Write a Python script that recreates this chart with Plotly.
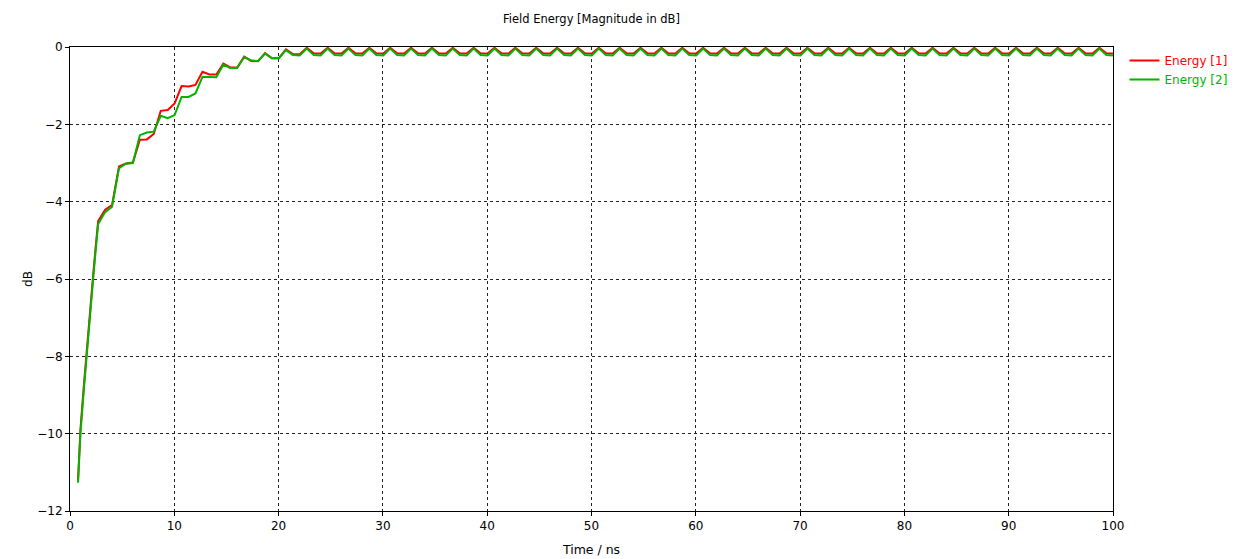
import plotly.graph_objects as go

# ---- data ----
time_ns = [
    0.77, 0.88, 1.00, 1.30, 1.58, 1.90, 2.22, 2.45, 2.70, 3.37, 4.03,
    4.70, 5.37, 6.03, 6.70, 7.37, 8.03, 8.70, 9.37, 10.03,
    10.70, 11.37, 12.03, 12.70, 13.37, 14.03, 14.70, 15.37, 16.03,
    16.70, 17.37, 18.03, 18.70, 19.37, 20.03, 20.70, 21.37, 22.03,
    22.70, 23.37, 24.03, 24.70, 25.37, 26.03, 26.70, 27.37, 28.03,
    28.70, 29.37, 30.03, 30.70, 31.37, 32.03, 32.70, 33.37, 34.03,
    34.70, 35.37, 36.03, 36.70, 37.37, 38.03, 38.70, 39.37, 40.03,
    40.70, 41.37, 42.03, 42.70, 43.37, 44.03, 44.70, 45.37, 46.03,
    46.70, 47.37, 48.03, 48.70, 49.37, 50.03, 50.70, 51.37, 52.03,
    52.70, 53.37, 54.03, 54.70, 55.37, 56.03, 56.70, 57.37, 58.03,
    58.70, 59.37, 60.03, 60.70, 61.37, 62.03, 62.70, 63.37, 64.03,
    64.70, 65.37, 66.03, 66.70, 67.37, 68.03, 68.70, 69.37, 70.03,
    70.70, 71.37, 72.03, 72.70, 73.37, 74.03, 74.70, 75.37, 76.03,
    76.70, 77.37, 78.03, 78.70, 79.37, 80.03, 80.70, 81.37, 82.03,
    82.70, 83.37, 84.03, 84.70, 85.37, 86.03, 86.70, 87.37, 88.03,
    88.70, 89.37, 90.03, 90.70, 91.37, 92.03, 92.70, 93.37, 94.03,
    94.70, 95.37, 96.03, 96.70, 97.37, 98.03, 98.70, 99.37, 100.00,
]

energy_1_db = [
    -11.20, -10.50, -9.90, -8.85, -7.90, -6.90, -5.90, -5.20, -4.50, -4.21, -4.09,
    -3.09, -3.01, -2.99, -2.40, -2.39, -2.25, -1.65, -1.63, -1.46,
    -1.01, -1.02, -0.98, -0.64, -0.71, -0.71, -0.43, -0.53, -0.53,
    -0.25, -0.36, -0.37, -0.16, -0.29, -0.29, -0.06, -0.18, -0.19,
    -0.02, -0.16, -0.17, -0.02, -0.16, -0.17, -0.02, -0.16, -0.17,
    -0.02, -0.16, -0.17, -0.02, -0.16, -0.17, -0.02, -0.16, -0.17,
    -0.02, -0.16, -0.17, -0.02, -0.16, -0.17, -0.02, -0.16, -0.17,
    -0.02, -0.16, -0.17, -0.02, -0.16, -0.17, -0.02, -0.16, -0.17,
    -0.02, -0.16, -0.17, -0.02, -0.16, -0.17, -0.02, -0.16, -0.17,
    -0.02, -0.16, -0.17, -0.02, -0.16, -0.17, -0.02, -0.16, -0.17,
    -0.02, -0.16, -0.17, -0.02, -0.16, -0.17, -0.02, -0.16, -0.17,
    -0.02, -0.16, -0.17, -0.02, -0.16, -0.17, -0.02, -0.16, -0.17,
    -0.02, -0.16, -0.17, -0.02, -0.16, -0.17, -0.02, -0.16, -0.17,
    -0.02, -0.16, -0.17, -0.02, -0.16, -0.17, -0.02, -0.16, -0.17,
    -0.02, -0.16, -0.17, -0.02, -0.16, -0.17, -0.02, -0.16, -0.17,
    -0.02, -0.16, -0.17, -0.02, -0.16, -0.17, -0.02, -0.16, -0.17,
    -0.02, -0.16, -0.17, -0.02, -0.16, -0.17, -0.02, -0.16, -0.17,
]

energy_2_db = [
    -11.27, -10.60, -10.00, -8.95, -8.00, -7.00, -6.00, -5.30, -4.58, -4.27, -4.13,
    -3.13, -3.02, -3.00, -2.28, -2.21, -2.19, -1.78, -1.84, -1.76,
    -1.29, -1.29, -1.20, -0.77, -0.78, -0.78, -0.46, -0.54, -0.54,
    -0.26, -0.35, -0.36, -0.17, -0.29, -0.29, -0.08, -0.21, -0.22,
    -0.04, -0.21, -0.22, -0.04, -0.21, -0.22, -0.04, -0.21, -0.22,
    -0.04, -0.21, -0.22, -0.04, -0.21, -0.22, -0.04, -0.21, -0.22,
    -0.04, -0.21, -0.22, -0.04, -0.21, -0.22, -0.04, -0.21, -0.22,
    -0.04, -0.21, -0.22, -0.04, -0.21, -0.22, -0.04, -0.21, -0.22,
    -0.04, -0.21, -0.22, -0.04, -0.21, -0.22, -0.04, -0.21, -0.22,
    -0.04, -0.21, -0.22, -0.04, -0.21, -0.22, -0.04, -0.21, -0.22,
    -0.04, -0.21, -0.22, -0.04, -0.21, -0.22, -0.04, -0.21, -0.22,
    -0.04, -0.21, -0.22, -0.04, -0.21, -0.22, -0.04, -0.21, -0.22,
    -0.04, -0.21, -0.22, -0.04, -0.21, -0.22, -0.04, -0.21, -0.22,
    -0.04, -0.21, -0.22, -0.04, -0.21, -0.22, -0.04, -0.21, -0.22,
    -0.04, -0.21, -0.22, -0.04, -0.21, -0.22, -0.04, -0.21, -0.22,
    -0.04, -0.21, -0.22, -0.04, -0.21, -0.22, -0.04, -0.21, -0.22,
    -0.04, -0.21, -0.22, -0.04, -0.21, -0.22, -0.04, -0.21, -0.22,
]

series_names = ["Energy [1]", "Energy [2]"]
series_colors = ["#ff0000", "#00b400"]

x_ticks = [0, 10, 20, 30, 40, 50, 60, 70, 80, 90, 100]
y_ticks = [0, -2, -4, -6, -8, -10, -12]

FONT = "DejaVu Sans, Tahoma, Verdana, sans-serif"

# page body has an 8px margin; figure sized to fit inside the 1242x559 window
W, H = 1234, 551

fig = go.Figure()
for vals, name, col in zip([energy_1_db, energy_2_db], series_names, series_colors):
    fig.add_trace(go.Scatter(
        x=time_ns, y=vals, mode="lines",
        name=f'<span style="color:{col}">{name}</span>',
        line=dict(color=col, width=2),
    ))

axis_common = dict(
    showgrid=True, gridcolor="#222222", griddash="dot", gridwidth=1,
    showline=True, linecolor="#000000", linewidth=1, mirror=True,
    ticks="outside", ticklen=4, tickcolor="#000000", tickwidth=1,
    zeroline=False, automargin=False,
    tickfont=dict(family=FONT, size=12, color="#000000"),
)

fig.update_layout(
    width=W, height=H,
    margin=dict(l=62, r=129, t=39, b=48, pad=0),
    paper_bgcolor="white", plot_bgcolor="white",
    font=dict(family=FONT, size=11, color="#000000"),
    title=dict(text="Field Energy [Magnitude in dB]", x=0.5, xref="paper",
               xanchor="center", y=1 - 11 / H, yref="container",
               yanchor="middle", font=dict(family=FONT, size=11.5, color="#000000")),
    xaxis=dict(range=[0, 100], tickvals=x_ticks,
               title=dict(text="Time / ns", standoff=12,
                          font=dict(family=FONT, size=12.5, color="#000000")),
               **axis_common),
    yaxis=dict(range=[-12, 0], tickvals=y_ticks,
               title=dict(text="dB", standoff=2,
                          font=dict(family=FONT, size=12, color="#000000")),
               **axis_common),
    legend=dict(xref="container", yref="container",
                x=1116.5 / W, y=1 - 38 / H, xanchor="left", yanchor="top",
                bgcolor="rgba(0,0,0,0)", borderwidth=0,
                font=dict(family=FONT, size=12)),
    showlegend=True,
)

fig.write_html("out.html")
